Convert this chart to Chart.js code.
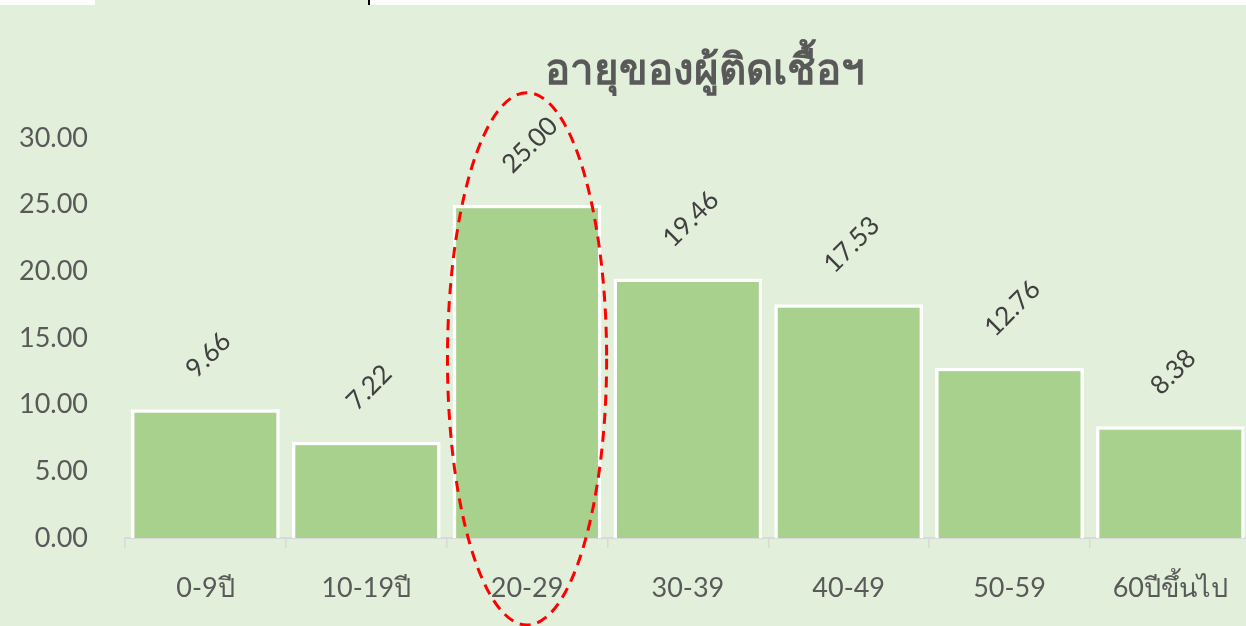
<!DOCTYPE html>
<html>
<head>
<meta charset="utf-8">
<script src="https://cdn.jsdelivr.net/npm/chart.js@4/dist/chart.umd.min.js"></script>
<style>
  html, body { margin:0; padding:0; width:1246px; height:626px; overflow:hidden; background:#E2EFDA; }
  #wrap { position:absolute; left:0; top:0; width:1252px; height:626px; }
  .strip { position:absolute; top:0; height:5px; background:#ffffff; }
</style>
</head>
<body>
<div id="wrap"><canvas id="c" width="1252" height="626"></canvas></div>
<div class="strip" style="left:0;width:95px"></div>
<div class="strip" style="left:370px;width:876px"></div>
<div class="strip" style="left:368px;width:2px;background:#000"></div>
<script>
const categories = ["0-9ปี", "10-19ปี", "20-29", "30-39", "40-49", "50-59", "60ปีขึ้นไป"];
const values = [9.66, 7.22, 25.00, 19.46, 17.53, 12.76, 8.38];
const yTicks = [0, 5, 10, 15, 20, 25, 30];
const titleText = "อายุของผู้ติดเชื้อฯ";
const highlightIndex = 2;

const FONT = "Lato, 'Noto Sans', 'Open Sans', sans-serif";

const titlePlugin = {
  id: 'customTitle',
  afterDraw(chart) {
    const ctx = chart.ctx;
    ctx.save();
    ctx.font = "bold 42px " + FONT;
    ctx.fillStyle = "#595959";
    ctx.textAlign = "center";
    ctx.textBaseline = "middle";
    ctx.fillText(titleText, 705, 70);
    ctx.restore();
  }
};

const labelPlugin = {
  id: 'rotLabels',
  afterDatasetsDraw(chart) {
    const ctx = chart.ctx;
    const meta = chart.getDatasetMeta(0);
    ctx.save();
    ctx.font = "26px " + FONT;
    ctx.fillStyle = "#404040";
    ctx.textAlign = "center";
    ctx.textBaseline = "middle";
    meta.data.forEach((bar, i) => {
      const txt = values[i].toFixed(2);
      const w = ctx.measureText(txt).width;
      const off = 36 + w / 2 * 0.707;
      ctx.save();
      ctx.translate(bar.x + 3, bar.y - off);
      ctx.rotate(-Math.PI / 4);
      ctx.fillText(txt, 0, 0);
      ctx.restore();
    });
    ctx.restore();
  }
};

const ellipsePlugin = {
  id: 'ellipse',
  afterDraw(chart) {
    const ctx = chart.ctx;
    const bar = chart.getDatasetMeta(0).data[highlightIndex];
    const y = chart.scales.y;
    const top = y.getPixelForValue(33.4);
    const bottom = chart.height - 1;
    const cx = bar.x;
    const cy = (top + bottom) / 2;
    const rx = bar.width * 0.535;
    const ry = (bottom - top) / 2;
    ctx.save();
    ctx.strokeStyle = "#FF0000";
    ctx.lineWidth = 3;
    ctx.setLineDash([11, 7]);
    ctx.beginPath();
    ctx.ellipse(cx, cy, rx, ry, 0, 0, Math.PI * 2);
    ctx.stroke();
    ctx.restore();
  }
};

new Chart(document.getElementById('c'), {
  type: 'bar',
  data: {
    labels: categories,
    datasets: [{
      data: values,
      backgroundColor: "#A9D18E",
      borderColor: "#FFFFFF",
      borderWidth: 3.5,
      categoryPercentage: 1.0,
      barPercentage: 0.925
    }]
  },
  options: {
    responsive: false,
    animation: false,
    layout: { padding: { left: 0, right: 0, top: 138, bottom: 0 } },
    plugins: {
      legend: { display: false },
      tooltip: { enabled: false },
      title: { display: false }
    },
    scales: {
      x: {
        grid: { display: true, drawOnChartArea: false, drawTicks: true, tickLength: 10, color: "#D9D9D9", lineWidth: 1.5, offset: true },
        border: { display: true, color: "#D9D9D9", width: 2 },
        ticks: { color: "#595959", font: { family: FONT, size: 27 }, padding: 24, maxRotation: 0 },
        afterFit(scale) { scale.height = 88; }
      },
      y: {
        min: 0, max: 30,
        afterBuildTicks(scale) { scale.ticks = yTicks.map(v => ({ value: v })); },
        grid: { display: false, drawTicks: false },
        border: { display: false },
        ticks: {
          color: "#595959",
          font: { family: FONT, size: 27 },
          padding: 37,
          callback: v => Number(v).toFixed(2)
        },
        afterFit(scale) { scale.width = 125; }
      }
    }
  },
  plugins: [labelPlugin, ellipsePlugin, titlePlugin]
});
</script>
</body>
</html>
